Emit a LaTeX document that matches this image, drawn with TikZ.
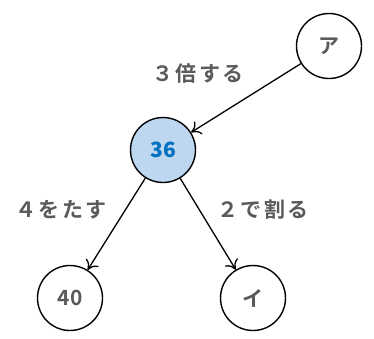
\documentclass[tikz,border=0pt]{standalone}
\usepackage{fontspec}
\newfontfamily\jpfont[LetterSpace=12]{Noto Sans CJK JP Bold}
\newfontfamily\numfont[BoldFont={Noto Sans CJK JP Black}]{Noto Sans CJK JP Bold}
\definecolor{labelgray}{RGB}{90,90,90}
\definecolor{numblue}{RGB}{0,112,192}
\definecolor{nodeblue}{RGB}{189,215,240}
\usetikzlibrary{positioning,arrows.meta}

\begin{document}
\begin{tikzpicture}[x=1pt,y=-1pt,
  num/.style={draw,line width=1.4pt,circle,minimum size=65pt,inner sep=0pt,font=\numfont\fontsize{21}{21}\selectfont,text=labelgray},
  step lbl/.style={font=\jpfont\fontsize{21}{21}\selectfont,text=labelgray},
  arr/.style={line width=1.3pt,-{To[length=9pt,width=15pt]}}]
  \useasboundingbox (0,0) rectangle (374,338);
  \node[num] (a) at (329,46) {ア};
  \node[num,fill=nodeblue,text=numblue,font=\numfont\fontsize{21}{21}\selectfont\bfseries] (b) at (163,150) {36};
  \node[num] (c) at (70,298) {40};
  \node[num] (d) at (253,298) {イ};
  \draw[arr] (a) -- (b);
  \draw[arr] (b) -- (c);
  \draw[arr] (b) -- (d);
  \node[step lbl] (t1) at (198,74) {３倍する};
  \node[step lbl] (t2) at (61,210) {４をたす};
  \node[step lbl] (t3) at (263,210) {２で割る};
\end{tikzpicture}
\end{document}
